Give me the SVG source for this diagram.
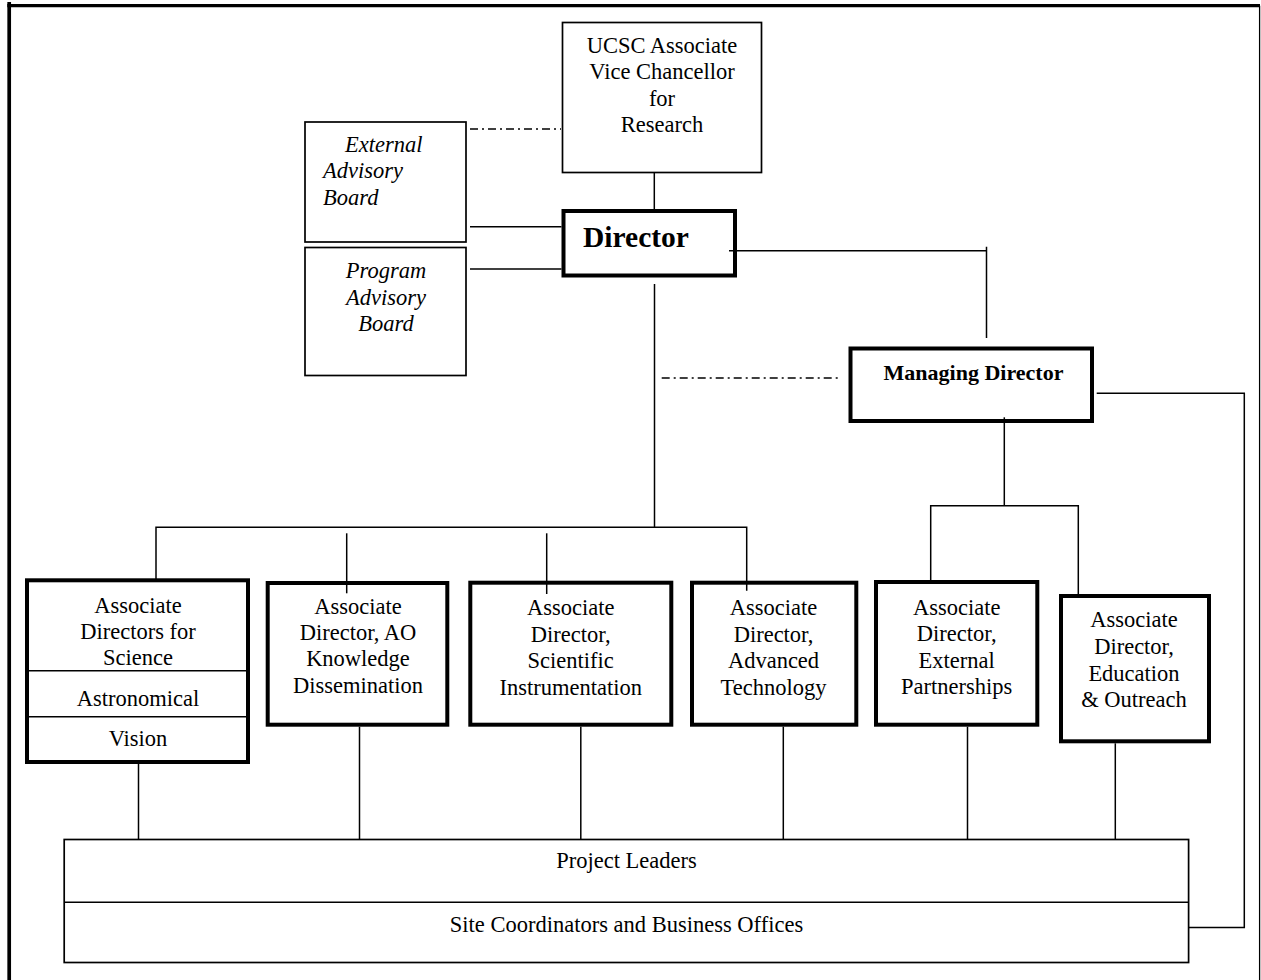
<svg xmlns="http://www.w3.org/2000/svg" width="1261" height="980" viewBox="0 0 1261 980">
<style>
  .thin { fill: #fff; stroke: #000; stroke-width: 1.7; }
  .thick { fill: #fff; stroke: #000; stroke-width: 4; }
  .div { stroke: #000; stroke-width: 1.5; }
  #connectors line, #connectors path { fill: none; stroke: #000; stroke-width: 1.5; }
  #connectors .dd { stroke-dasharray: 8 4 2 4; }
  text { font-family: "Liberation Serif", "Times New Roman", serif; font-size: 22.5px; fill: #000; }
  .c { text-anchor: middle; }
  .i { font-style: italic; }
  .b { font-weight: bold; }
</style>

<g id="frame">
  <line x1="9.2" y1="2" x2="9.2" y2="980" stroke="#000" stroke-width="3.7"/>
  <line x1="7.3" y1="5.7" x2="1260" y2="5.7" stroke="#000" stroke-width="3.3"/>
  <line x1="1259.6" y1="5.7" x2="1259.6" y2="980" stroke="#000" stroke-width="1.3"/>
</g>

<g id="ucsc">
  <rect class="thin" x="562.5" y="22.5" width="199" height="150"/>
  <text class="c" x="662" y="52.7">UCSC Associate</text>
  <text class="c" x="662" y="79">Vice Chancellor</text>
  <text class="c" x="662" y="105.7">for</text>
  <text class="c" x="662" y="132.3">Research</text>
</g>

<g id="external-advisory-board">
  <rect class="thin" x="305" y="122" width="161" height="120"/>
  <text class="i" x="345" y="151.7">External</text>
  <text class="i" x="323" y="178.3">Advisory</text>
  <text class="i" x="323" y="205">Board</text>
</g>

<g id="program-advisory-board">
  <rect class="thin" x="305" y="247.5" width="161" height="128"/>
  <text class="i c" x="386" y="278">Program</text>
  <text class="i c" x="386" y="304.5">Advisory</text>
  <text class="i c" x="386" y="331">Board</text>
</g>

<g id="director">
  <rect class="thick" x="563.5" y="211" width="171.5" height="64.5"/>
  <text class="b" x="583" y="247.3" style="font-size:29.5px">Director</text>
</g>

<g id="managing-director">
  <rect class="thick" x="850.5" y="348.5" width="241.5" height="72.5"/>
  <text class="b c" x="973.5" y="380" style="font-size:22px">Managing Director</text>
</g>

<g id="ad-science">
  <rect class="thick" x="27" y="580.3" width="221" height="181.7"/>
  <line class="div" x1="27" y1="670.7" x2="248" y2="670.7"/>
  <line class="div" x1="27" y1="716.7" x2="248" y2="716.7"/>
  <text class="c" x="138" y="613.3">Associate</text>
  <text class="c" x="138" y="639">Directors for</text>
  <text class="c" x="138" y="664.5">Science</text>
  <text class="c" x="138" y="705.7">Astronomical</text>
  <text class="c" x="138" y="745.7">Vision</text>
</g>

<g id="ad-ao-knowledge">
  <rect class="thick" x="267.7" y="583" width="179.6" height="141.7"/>
  <text class="c" x="358" y="613.5">Associate</text>
  <text class="c" x="358" y="640">Director, AO</text>
  <text class="c" x="358" y="666.3">Knowledge</text>
  <text class="c" x="358" y="692.8">Dissemination</text>
</g>

<g id="ad-scientific-instrumentation">
  <rect class="thick" x="470.3" y="582.7" width="201" height="142"/>
  <text class="c" x="570.7" y="615">Associate</text>
  <text class="c" x="570.7" y="641.5">Director,</text>
  <text class="c" x="570.7" y="667.5">Scientific</text>
  <text class="c" x="570.7" y="694.5">Instrumentation</text>
</g>

<g id="ad-advanced-technology">
  <rect class="thick" x="692" y="582.7" width="164.3" height="142"/>
  <text class="c" x="773.5" y="615">Associate</text>
  <text class="c" x="773.5" y="641.5">Director,</text>
  <text class="c" x="773.5" y="667.5">Advanced</text>
  <text class="c" x="773.5" y="694.5">Technology</text>
</g>

<g id="ad-external-partnerships">
  <rect class="thick" x="876" y="582" width="161.3" height="142.7"/>
  <text class="c" x="956.7" y="615">Associate</text>
  <text class="c" x="956.7" y="641">Director,</text>
  <text class="c" x="956.7" y="667.5">External</text>
  <text class="c" x="956.7" y="694">Partnerships</text>
</g>

<g id="ad-education-outreach">
  <rect class="thick" x="1061" y="596" width="148" height="145.3"/>
  <text class="c" x="1134" y="627.3">Associate</text>
  <text class="c" x="1134" y="654">Director,</text>
  <text class="c" x="1134" y="680.5">Education</text>
  <text class="c" x="1134" y="707">&amp; Outreach</text>
</g>

<g id="project-leaders">
  <rect class="thin" x="64.2" y="839.5" width="1124.4" height="123"/>
  <line class="div" x1="64.2" y1="902.3" x2="1188.6" y2="902.3"/>
  <text class="c" x="626.5" y="868.3">Project Leaders</text>
  <text class="c" x="626.5" y="931.7">Site Coordinators and Business Offices</text>
</g>

<g id="connectors">
  <line x1="654.3" y1="172.5" x2="654.3" y2="211"/>
  <line class="dd" x1="470" y1="129" x2="561" y2="129"/>
  <line x1="470" y1="226.7" x2="561.5" y2="226.7"/>
  <line x1="470" y1="269" x2="561.5" y2="269"/>
  <path d="M729 250.7 H986.5 M986.5 246.7 V338"/>
  <line x1="654.5" y1="284" x2="654.5" y2="527.3"/>
  <line class="dd" x1="661.7" y1="378" x2="839.6" y2="378"/>
  <path d="M156 579 V527.3 H746.7 V590.7"/>
  <line x1="346.7" y1="533.3" x2="346.7" y2="593.3"/>
  <line x1="546.7" y1="533.3" x2="546.7" y2="594"/>
  <line x1="1004.3" y1="417.3" x2="1004.3" y2="505.7"/>
  <path d="M930.7 581 V505.7 H1078.3 V594"/>
  <path d="M1096.7 393.3 H1244.3 V927.5 H1188.6"/>
  <line x1="138.5" y1="764" x2="138.5" y2="839.5"/>
  <line x1="359.5" y1="726.7" x2="359.5" y2="839.5"/>
  <line x1="580.8" y1="726.7" x2="580.8" y2="839.5"/>
  <line x1="783.3" y1="726.7" x2="783.3" y2="839.5"/>
  <line x1="967.5" y1="726.7" x2="967.5" y2="839.5"/>
  <line x1="1115.3" y1="743.3" x2="1115.3" y2="839.5"/>
</g>
</svg>
